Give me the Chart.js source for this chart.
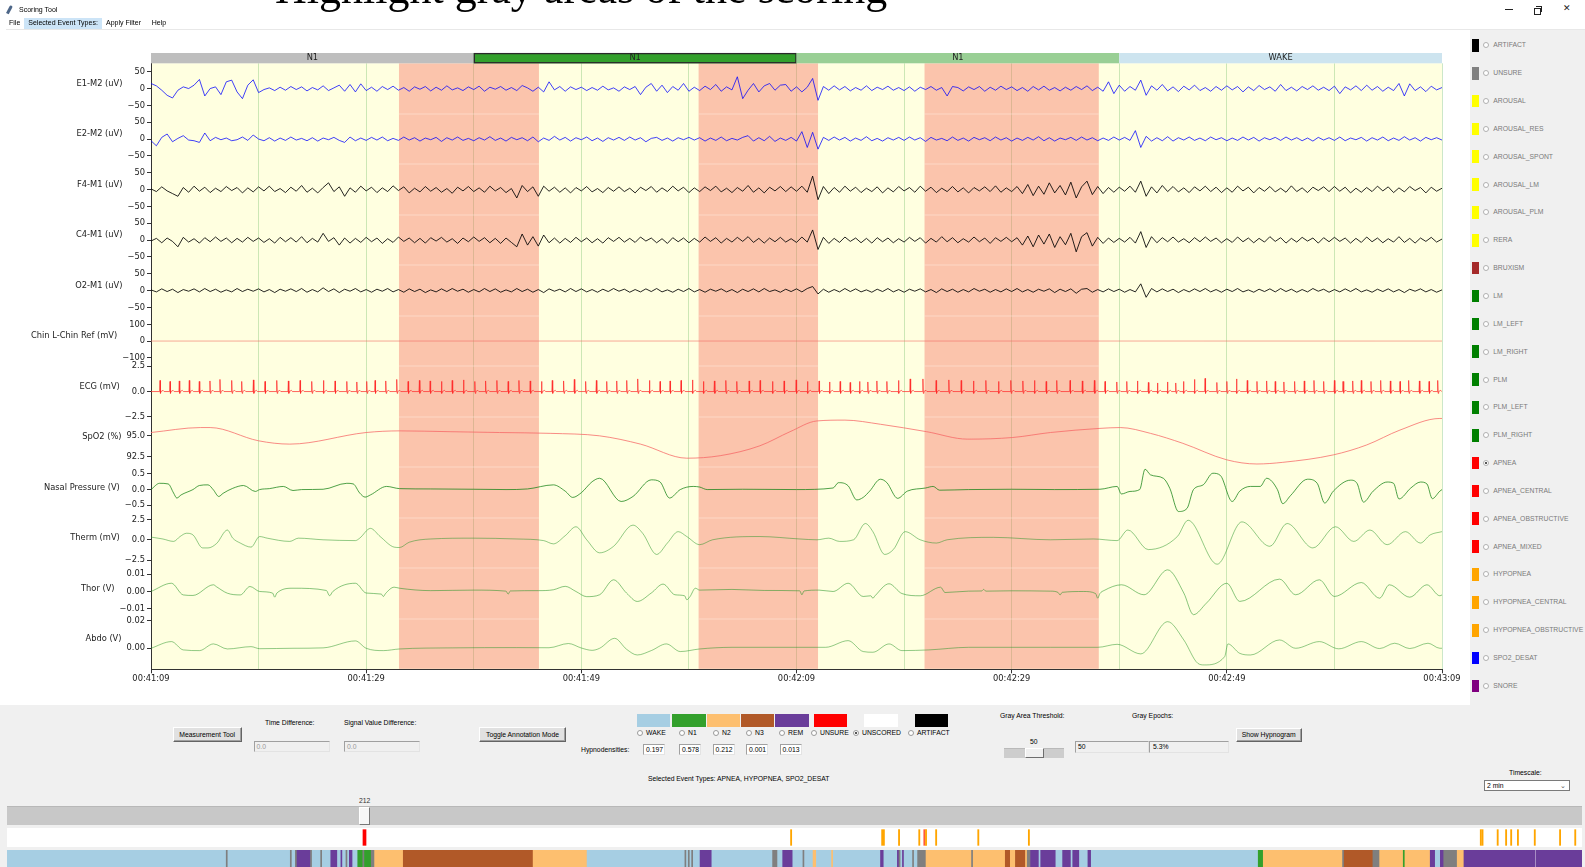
<!DOCTYPE html>
<html>
<head>
<meta charset="utf-8">
<title>Scoring Tool</title>
<script src="https://cdn.jsdelivr.net/npm/chart.js@4.4.1/dist/chart.umd.min.js"></script>
<style>
  body { margin:0; width:1585px; height:867px; overflow:hidden; background:#fff; position:relative; font-family:'Liberation Sans', Arial, sans-serif; }
  .abs { position:absolute; white-space:nowrap; }
  .tk { font-size:6.8px; line-height:8px; color:#000; }
  .btn { position:absolute; background:#e1e1e1; border:1px solid; border-color:#fff #646464 #646464 #fff; box-shadow:inset -1px -1px 0 #a0a0a0; font-size:6.8px; text-align:center; box-sizing:border-box; white-space:nowrap; }
  .entry { position:absolute; box-sizing:border-box; border:1px solid; border-color:#a0a0a0 #e3e3e3 #e3e3e3 #a0a0a0; font-size:6.8px; padding-left:2px; white-space:nowrap; }
  .rb { position:absolute; width:6px; height:6px; border-radius:50%; border:1px solid #9a9a9a; background:#fff; box-sizing:border-box; }
  .rb.on::after { content:''; position:absolute; left:1.2px; top:1.2px; width:1.6px; height:1.6px; border-radius:50%; background:#333; }
  canvas { position:absolute; }
</style>
</head>
<body>

<canvas id="psg" width="1470" height="700" style="left:0;top:0"></canvas>

<!-- title bar and menu -->
<div class="abs" style="left:8px;top:5px;width:2.5px;height:9px;background:#4d6688;transform:rotate(28deg);border-radius:2px 2px 0 0"></div>
<div class="abs tk" style="left:19px;top:6px;font-size:7px">Scoring Tool</div>
<div class="abs" style="left:1505px;top:9px;width:8px;height:1px;background:#222"></div>
<div class="abs" style="left:1536px;top:6px;width:5px;height:5px;border:1px solid #222;border-left:none;border-bottom:none"></div>
<div class="abs" style="left:1534px;top:8px;width:5px;height:5px;border:1px solid #222;background:#fff"></div>
<div class="abs" style="left:1563px;top:3px;font:9px 'DejaVu Sans';color:#222">✕</div>
<div class="abs" style="left:24px;top:17.5px;width:77.5px;height:11px;background:#cce4f7"></div>
<div class="abs tk" style="left:9px;top:19.3px;font-size:7px">File</div>
<div class="abs tk" style="left:28.3px;top:19.3px;font-size:7px">Selected Event Types:</div>
<div class="abs tk" style="left:106px;top:19.3px;font-size:7px">Apply Filter</div>
<div class="abs tk" style="left:151.7px;top:19.3px;font-size:7px">Help</div>
<div class="abs" style="left:6px;top:28.5px;width:1579px;height:1px;background:#e8e8e8"></div>
<div class="abs" style="left:275px;top:-33px;font:44px 'Liberation Serif', serif;line-height:44px;color:#000">Highlight gray areas of the scoring</div>

<!-- event type list on the right -->
<div id="evPanel" class="abs" style="left:1470px;top:30px;width:115px;height:675px;background:#f0f0f0"></div>

<!-- control panel -->
<div id="ctrl" class="abs" style="left:0;top:705px;width:1585px;height:162px;background:#f0f0f0">
  <div class="btn" style="left:173px;top:21.7px;width:68.5px;height:15px;line-height:13px">Measurement Tool</div>
  <div class="abs tk" style="left:265px;top:14px">Time Difference:</div>
  <div class="entry" style="left:253.6px;top:36px;width:76.4px;height:11px;line-height:9px;color:#9a9a9a">0.0</div>
  <div class="abs tk" style="left:344px;top:14px">Signal Value Difference:</div>
  <div class="entry" style="left:344px;top:36px;width:76px;height:11px;line-height:9px;color:#9a9a9a">0.0</div>
  <div class="btn" style="left:479px;top:22px;width:87px;height:15px;line-height:13px">Toggle Annotation Mode</div>
  <div id="stageKeys"></div>
  <div class="abs tk" style="left:581px;top:41px">Hypnodensities:</div>
  <div id="hdBoxes"></div>
  <div class="abs tk" style="left:648px;top:70px">Selected Event Types: APNEA, HYPOPNEA, SPO2_DESAT</div>
  <div class="abs tk" style="left:1000px;top:7px">Gray Area Threshold:</div>
  <div class="abs tk" style="left:1132px;top:7px">Gray Epochs:</div>
  <div class="abs tk" style="left:1030px;top:33px">50</div>
  <div class="abs" style="left:1004px;top:43px;width:60px;height:10px;background:#cdcdcd;border-top:1px solid #b9b9b9;box-sizing:border-box"></div>
  <div class="abs" style="left:1025px;top:43px;width:19px;height:10px;background:#f0f0f0;border:1px solid;border-color:#fff #6e6e6e #6e6e6e #fff;box-sizing:border-box"></div>
  <div class="entry" style="left:1075px;top:36px;width:74px;height:12px;line-height:10px">50</div>
  <div class="entry" style="left:1149px;top:36px;width:80px;height:12px;line-height:10px;padding-left:3px">5.3%</div>
  <div class="btn" style="left:1236px;top:23px;width:65.5px;height:14px;line-height:12px">Show Hypnogram</div>
  <div class="abs tk" style="left:1509px;top:64px">Timescale:</div>
  <div class="entry" style="left:1484px;top:75px;width:86px;height:11px;line-height:9px;background:#fff;border:1px solid #7a7a7a">2 min<span style="position:absolute;right:3px;top:0;color:#555">&#8964;</span></div>
  <div class="abs" style="left:7px;top:101px;width:1575px;height:19px;background:#c8c8c8;border-top:1px solid #b8b8b8;box-sizing:border-box"></div>
  <div id="thumb" class="abs" style="top:101.5px;width:10.5px;height:18px;background:#f6f6f6;border:1px solid;border-color:#fff #777 #777 #fff;box-sizing:border-box"></div>
  <div id="thumbLbl" class="abs tk" style="top:91.5px;color:#333"></div>
</div>
<canvas id="events" width="1575" height="19" style="left:7px;top:828px;background:#fff"></canvas>
<canvas id="hypno" width="1575" height="17" style="left:7px;top:850px;background:#fff"></canvas>

<script>
// ---- signal data (2 min window, 00:41:09 - 00:43:09) ----
const chanNames = ['E1-M2 (uV)', 'E2-M2 (uV)', 'F4-M1 (uV)', 'C4-M1 (uV)', 'O2-M1 (uV)', 'Chin L-Chin Ref (mV)',
  'ECG (mV)', 'SpO2 (%)', 'Nasal Pressure (V)', 'Therm (mV)', 'Thor (V)', 'Abdo (V)'];
const chanMin = [-75, -75, -75, -75, -75, -153, -2.5, 91.2, -0.9, -3.5, -0.0159, -0.0154];
const chanMax = [75, 75, 75, 75, 75, 153, 2.5, 97.3, 0.71, 2.7, 0.0135, 0.0216];
const chanTicks = [[-50, 0, 50], [-50, 0, 50], [-50, 0, 50], [-50, 0, 50], [-50, 0, 50], [-100, 0, 100],
  [-2.5, 0, 2.5], [92.5, 95], [-0.5, 0, 0.5], [-2.5, 0, 2.5], [-0.01, 0, 0.01], [0, 0.02]];
const tickDecimals = [0, 0, 0, 0, 0, 0, 1, 1, 1, 1, 2, 2];

const xGridSecs = [0, 10, 20, 30, 40, 50, 60, 70, 80, 90, 100, 110, 120];
const xTickVals = [0, 20, 40, 60, 80, 100, 120];
const xTickLabels = ['00:41:09', '00:41:29', '00:41:49', '00:42:09', '00:42:29', '00:42:49', '00:43:09'];

// 30 s epochs shown in the bar above the traces
const epochStart = [0, 30, 60, 90];
const epochLen = 30;
const epochStage = ['N1', 'N1', 'N1', 'WAKE'];
const currentEpochIdx = 1;

// apnea events (seconds into the window)
const apneaSpans = [[23.05, 36.06], [50.9, 62.0], [71.9, 88.1]];

// EEG / EOG sampled every 0.5 s
const eegStep = 0.5;
const e1m2 = [
  15,8,-5,-20,-28,-5,5,0,10,27, -22,0,5,-18,20,25,-10,-30,10,26,
  -12,-3,2,-6,4,-5,6,-3,5,-7, 3,-4,8,-6,2,10,-8,12,-10,14,
  -6,4,-8,6,-3,7,-5,3,-8,5, -2,6,-7,4,-5,8,-4,2,-6,5,
  -3,7,-8,4,-2,6,-5,3,-6,9, 2,-8,4,-10,20,-4,6,-8,5,-3,
  4,-6,3,-5,7,-4,2,-8,5,-3, 6,-18,4,15,-8,10,-12,6,-5,15,
  -8,4,-6,7,-3,12,-8,5,-4,35, -30,-5,15,-10,8,15,-5,10,12,-8,
  5,-10,4,30,-35,6,-5,8,-4,6, -7,3,-5,8,-6,4,-3,7,-5,3,
  -6,5,-8,4,-3,6,-5,3,-22,6, 3,-7,5,-3,6,-8,4,-5,7,-3,
  5,-6,3,-8,6,-4,7,-5,3,-7, 4,-5,6,-3,8,-6,4,-8,20,-15,
  10,-8,6,-5,25,-20,8,-5,12,-7, 5,-9,7,-4,10,-6,3,-8,6,-5,
  8,-4,6,-10,5,-6,9,-3,5,-8, 12,-6,4,-7,6,-3,8,-5,4,-6,
  7,-15,5,-4,8,-6,10,-5,6,-8, 4,-6,15,-22,14,-6,5,-9,7,-4,
  3];
const e2m2 = [
  -5,-20,5,15,-8,2,10,-3,-5,-10, 18,-5,5,-2,3,-5,-2,6,-4,12,
  0,-5,4,-6,3,-4,6,-3,2,-5, 4,-6,3,-2,5,-4,-10,6,-5,3,
  -4,5,-3,6,-5,2,-4,6,-3,4, -6,3,-2,5,-7,4,-3,6,-4,2,
  -5,4,-3,7,-4,3,-6,5,-2,4, -5,6,-8,3,-4,8,-3,5,-6,4,
  -2,6,-5,3,-7,4,-3,5,-4,6, -3,4,-8,2,5,-4,3,-6,4,-2,
  5,-3,4,-6,3,-4,6,-5,2,-3, 5,10,-6,4,-5,8,-7,3,-4,5,
  -6,22,-25,20,-30,5,-4,6,-3,5, -6,3,-4,7,-5,2,-6,4,-3,5,
  -4,6,-3,4,-7,5,-3,2,-5,6, -4,3,-6,5,-2,4,-5,6,-3,4,
  -6,3,-4,5,-3,7,-5,4,-6,3, -2,5,-4,6,-3,4,-5,3,-4,6,
  -3,5,-4,25,-25,8,-6,4,-5,7, -6,4,-3,6,-4,3,-5,6,-2,4,
  -5,3,-4,6,-3,5,-6,4,-2,5, -4,6,-3,4,-5,3,-6,5,-3,4,
  -4,6,-5,3,-2,5,-6,4,-3,6, -5,3,-4,7,-3,4,-6,5,-2,4,
  -3];
const f4m1 = [
  2,-6,8,-4,-12,-20,6,-8,10,-5, 7,-9,4,-6,9,-3,6,-10,5,-7,
  8,-4,10,-6,3,-9,7,-5,12,-8, 4,-10,6,20,-6,8,-20,5,-8,10,
  -4,7,-9,5,-6,11,-3,8,-10,4, -7,9,-5,6,-8,3,-11,7,-4,9,
  -6,5,-8,10,-4,6,-9,3,-25,12, -6,8,-20,10,-5,7,-8,5,-10,6,
  -4,9,-7,3,-9,6,-5,8,-6,4, -10,7,-3,9,-8,5,-6,10,-4,7,
  -9,5,-6,8,-3,10,-7,4,-9,6, -5,12,-8,5,-10,7,-4,9,-6,8,
  -5,10,-8,40,-30,9,-12,6,-8,10, -5,7,-9,4,-6,8,-10,5,-7,9,
  -4,6,-8,10,-5,7,-9,4,-6,9, -7,5,-10,6,-4,8,-6,11,-8,5,
  -6,9,-12,15,-18,10,-14,20,-10,12, -16,22,-25,8,25,-15,9,-12,6,-8,
  7,-5,10,-8,25,-20,8,-10,12,-6, 9,-7,5,-9,8,-4,10,-6,7,-9,
  5,-8,10,-4,7,-10,6,-5,9,-7, 4,-8,11,-6,5,-9,7,-3,8,-6,
  9,-5,7,-10,4,-8,6,-6,10,-4, 8,-9,5,-7,9,-3,6,-10,7,-5,
  4];
const c4m1 = [
  -3,5,-8,6,-4,-20,8,-6,4,-9, 7,-5,9,-4,6,-8,5,-6,8,-4,
  6,-7,4,-9,8,-5,7,-6,10,-8, 5,-6,20,-4,7,-15,6,-9,5,-7,
  8,-5,6,-10,4,-7,9,-4,6,-8, 5,-9,7,-3,8,-6,4,-10,6,-5,
  9,-4,7,-8,5,-10,6,-7,-20,18, -15,10,-18,15,-8,6,-9,5,-7,8,
  -5,6,-8,4,-9,7,-4,8,-6,5, -7,9,-3,6,-8,4,-10,7,-5,6,
  -8,5,-6,9,-4,7,-9,5,-6,8, -4,10,-7,5,-9,6,-5,8,-6,4,
  -7,9,-6,30,-28,8,-10,5,-7,9, -4,6,-8,5,-9,7,-5,6,-8,4,
  -6,8,-4,7,-9,5,-6,10,-5,7, -8,4,-6,9,-5,6,-10,7,-4,8,
  -5,7,-15,12,-20,15,-12,18,-22,10, -14,20,-35,10,22,-18,8,-10,6,-7,
  5,-6,8,-9,25,-22,10,-8,7,-5, 9,-6,4,-8,7,-5,9,-4,6,-8,
  4,-7,9,-5,6,-8,5,-6,10,-4, 7,-9,5,-6,8,-3,6,-9,7,-5,
  8,-4,6,-9,5,-7,9,-5,6,-8, 4,-6,10,-7,5,-9,6,-4,8,-6,
  3];
const o2m1 = [
  2,-4,5,-3,4,-6,3,-2,5,-4, 6,-3,4,-5,2,-4,6,-3,4,-2,
  5,-4,3,-6,4,-2,5,-3,6,-5, 3,-4,8,-3,5,-6,4,-2,6,-4,
  3,-5,4,-2,6,-4,3,-5,5,-3, 4,-6,2,-4,5,-3,6,-2,4,-5,
  3,-4,6,-3,5,-5,2,-4,6,-3, 4,-5,3,-6,5,-2,4,-4,6,-3,
  5,-4,3,-5,4,-3,6,-2,4,-5, 3,-4,5,-3,6,-4,2,-5,4,-3,
  6,-4,3,-5,4,-2,5,-4,3,-6, 4,-3,5,-4,6,-3,2,-5,4,-3,
  5,-4,6,12,-10,4,-5,3,-4,6, -3,5,-4,2,-5,4,-3,6,-4,3,
  -5,4,-2,5,-4,3,-6,5,-3,4, -5,3,-4,6,-2,4,-5,3,-4,5,
  -3,6,-4,3,-5,4,-2,5,-6,4, -3,5,-8,4,6,-5,3,-4,5,-3,
  4,-5,3,-4,20,-20,6,-4,5,-3, 4,-6,3,-4,5,-3,6,-4,3,-5,
  4,-3,6,-4,2,-5,4,-3,5,-4, 6,-3,4,-5,3,-4,6,-2,4,-5,
  3,-4,5,-3,6,-4,2,-5,4,-3, 5,-4,3,-6,4,-2,5,-4,3,-5,
  2];

const chin = [[0, 0], [120, 0]];

// ECG R-peaks: [time s, height mV]
const ecgBeats = [[0.84,1.1],[1.77,1.0],[2.63,1.05],[3.56,1.1],[4.49,1.0],[5.48,1.05],[6.41,1.2],[7.5,1.1],[8.43,1.0],[9.52,1.15],
  [10.6,1.0],[11.69,1.1],[12.77,1.05],[13.86,1.1],[14.94,1.0],[16.03,1.1],[17.11,1.05],[18.2,1.0],[19.13,0.95],[20.05,1.0],
  [20.83,1.1],[21.82,1.05],[22.84,1.2],[23.9,1.0],[24.95,1.1],[25.95,1.05],[27.0,1.0],[28.0,1.1],[29.05,1.15],[30.1,1.0],
  [31.1,1.05],[32.15,1.1],[33.2,1.0],[34.2,1.1],[35.25,1.05],[36.3,1.0],[37.3,1.1],[38.35,1.05],[39.35,1.2],[40.4,1.0],
  [41.4,1.1],[42.36,1.0],[43.29,1.05],[44.22,1.1],[45.24,1.25],[46.33,1.1],[47.32,1.0],[48.25,1.05],[49.27,1.1],[50.33,1.15],
  [51.35,1.0],[52.37,1.05],[53.43,1.1],[54.45,1.0],[55.6,1.05],[56.62,1.1],[57.77,1.0],[58.85,1.05],[59.97,1.15],[61.02,1.0],
  [62.1,1.05],[63.07,0.95],[64.06,1.0],[64.99,0.9],[65.86,1.0],[66.63,0.95],[67.47,1.05],[68.4,1.0],[69.48,1.1],[70.57,1.25],
  [71.75,1.25],[72.98,1.1],[74.16,1.15],[75.31,1.1],[76.45,1.05],[77.6,1.1],[78.78,1.0],[79.92,1.1],[81.04,1.05],[82.12,1.1],
  [83.21,1.0],[84.19,1.1],[85.43,1.1],[86.57,1.05],[87.69,1.1],[88.68,1.0],[89.77,0.95],[90.7,1.0],[91.69,1.05],[92.71,0.9],
  [93.55,0.85],[94.48,0.95],[95.25,0.85],[95.97,1.0],[96.99,1.2],[97.98,1.3],[99.07,0.9],[100.0,1.0],[100.9,1.25],[101.9,1.1],
  [102.8,1.0],[103.7,1.05],[104.5,1.0],[105.3,0.95],[106.3,1.0],[107.2,1.05],[108.1,1.1],[109.0,1.0],[110.0,1.1],[110.8,1.0],
  [111.7,1.05],[112.5,1.1],[113.4,1.0],[114.3,1.1],[115.2,1.05],[116.1,1.0],[116.9,1.1],[117.9,1.05],[118.8,1.0],[119.6,1.1]];

// slow channels: [time s, value]
const spo2 = [[0,95.4],[4.6,96.0],[5.5,96.0],[10,94.4],[12.9,94.0],[20,95.4],[23.1,95.6],[27.8,95.5],[32.4,95.4],[37.1,95.3],
  [41.7,95.0],[45.5,94.0],[49.8,92.3],[52.9,92.6],[56.6,93.8],[59.4,95.5],[61.9,96.8],[64.5,96.9],[67.8,96.4],[72.1,95.5],
  [75.9,94.6],[80.1,94.8],[83.6,95.4],[88.2,95.9],[90.1,96.0],[92.9,95.3],[95.9,94.1],[100,92.1],[102.8,91.6],[105.2,91.8],
  [109.9,92.7],[113,93.9],[116.1,95.7],[119.8,97.1],[120,97.1]];
const nasal = [[0,0],[0.8,0.2],[1.6,0.18],[2.1,-0.11],[2.4,-0.27],[2.8,-0.17],[3.9,0],[4.5,0.13],[5.3,0.15],[5.8,-0.01],
  [6.3,-0.22],[6.7,-0.12],[7.6,0.04],[8.6,0.13],[9.7,-0.06],[10.1,0],[11,0.03],[12.3,0.1],[13.2,-0.03],[14,0],
  [16,0.01],[18.2,0.2],[18.8,0.18],[19.4,-0.11],[19.9,-0.24],[20.4,-0.17],[21.9,0.1],[23.1,0.03],[26,0.02],[30,0.01],
  [33,0],[35,0.02],[37.4,0.15],[38.5,-0.05],[39.2,-0.25],[40,-0.1],[41,0.25],[41.7,0.36],[43.7,-0.38],[44.8,-0.22],
  [46.5,0.31],[47.3,0.25],[48.2,-0.27],[49.2,0],[50.4,0.1],[51,0.08],[51.7,0],[55,0.01],[60,0],[63.4,0.05],
  [63.9,0.22],[64.8,0.12],[65.6,-0.33],[66.2,-0.25],[66.8,-0.05],[67.8,0.33],[68.4,0.22],[69.4,-0.28],[70.3,-0.05],[72,0.05],
  [72.7,0.1],[73.3,-0.02],[76,0],[80,0.01],[84,0],[88.2,0.01],[89.8,0.1],[90.2,-0.14],[91,-0.06],[91.9,0],
  [92.4,0.65],[92.9,0.47],[94.1,0.36],[94.7,0.04],[95.5,-0.7],[96.3,-0.6],[96.9,0],[97.8,0.15],[98.7,0.52],[99.4,0.45],
  [100.5,-0.38],[101.2,-0.05],[102.2,0.1],[103.1,0.1],[103.7,0.36],[104.7,0],[105.2,-0.45],[105.9,-0.2],[107.5,0.33],[108.4,0.2],
  [109.1,-0.43],[109.9,-0.05],[111.5,0.3],[112.1,0.2],[112.7,-0.4],[113.6,-0.05],[114.9,0.24],[115.5,0.2],[116,-0.3],[117.1,0.05],
  [118,0.24],[118.6,0.18],[119.1,-0.29],[119.8,-0.05],[120,0]];
const therm = [[0,0.33],[1.1,0.1],[2.1,-0.2],[2.7,0.4],[3.3,0.8],[3.9,0.6],[4.8,-1.0],[5.3,-1.0],[6.1,-0.45],[7.1,1.2],
  [7.6,0.2],[8.3,-0.4],[9.3,-0.9],[10.1,0.4],[10.8,0.2],[12.9,-0.2],[13.7,0.2],[16,0],[19,-0.1],[19.4,0.2],
  [20.4,1.4],[21.3,0.4],[22.6,-0.9],[23.1,-0.95],[24,-0.3],[26,0.1],[30,0.2],[34,0.1],[36.5,-0.1],[37.4,-0.5],
  [38.5,0.5],[39.5,1.6],[40.5,0],[41.7,-1.6],[43,-0.8],[44.8,1.8],[45.7,0.8],[47,-1.8],[48,-0.4],[49,1.0],
  [49.8,0.4],[51,-0.6],[52.2,0],[56.6,0.4],[60.3,0.1],[61.9,0],[63,0.2],[64,-0.2],[65.3,0],[66.4,2.0],
  [67.1,1.0],[68.2,-1.8],[69,-1.2],[70.1,1.0],[71.5,0],[73,-0.4],[74,0],[78.3,0.3],[83.6,0],[87.6,0.1],
  [89.8,-0.1],[90.8,1.2],[92.7,-1.2],[95.4,0.4],[96.4,2.4],[99.1,-3.0],[101.4,2.2],[104,-0.8],[105.6,2.0],[108,-1.0],
  [110.1,1.6],[111.8,-0.2],[113.3,1.2],[114.9,-0.6],[116.6,1.0],[118,-0.4],[118.9,0.6],[120,1.0]];
const thor = [[0,0],[1.9,0.0048],[3,-0.002],[3.9,-0.0023],[5.8,0.0039],[6.1,0.0027],[7.1,-0.001],[8.3,-0.002],[9.2,0.0029],[10.1,0],
  [11.3,-0.0009],[11.5,-0.0033],[11.7,-0.0009],[13.2,0.0019],[16.3,0.0006],[16.6,-0.0025],[16.9,0],[19,0.0048],[20,-0.0009],[21.4,-0.0015],
  [21.6,-0.0029],[21.8,-0.0012],[22.6,0.0025],[23.1,0.0019],[26,0.0005],[30,0.0008],[33,0.0002],[33.2,-0.0015],[33.4,0.0003],[36,0.0005],
  [37.4,0.001],[38.5,0.003],[39.5,0],[40.5,-0.003],[41.7,-0.0019],[43,0.0068],[44.2,-0.0009],[45.2,-0.0058],[46.5,-0.0009],[47.6,0.0043],
  [48.7,-0.0019],[49.6,-0.0025],[49.8,-0.0048],[50.1,-0.003],[50.6,0.0019],[51,0.0008],[54,0.0012],[57,0.0006],[60.3,0.0004],[60.5,-0.0019],
  [60.7,0.0003],[62.1,0.0008],[63.4,0],[64.8,0.0048],[66.2,-0.0029],[66.9,-0.0025],[67.1,-0.0039],[67.3,-0.0025],[68.6,0.0045],[69.8,-0.0012],
  [71.5,-0.0025],[73.4,0.0025],[73.8,-0.0006],[76,0.0002],[77.2,0.0003],[77.4,0.0012],[77.6,0.0002],[80,0.0004],[83.6,0.0002],[84.3,-0.0005],
  [84.5,-0.002],[84.7,-0.0005],[86.7,0],[87.8,-0.0012],[88,-0.0039],[88.2,-0.0012],[88.6,0.0006],[90.2,0.0039],[92.3,-0.0019],[94.5,0.0126],
  [96,-0.0009],[96.9,-0.0135],[98.1,-0.0068],[100,0.0048],[101.2,-0.0058],[104.9,0.0072],[106.4,-0.0019],[108.6,0.0068],[110,-0.0029],[112.5,0.0052],
  [114.2,-0.0039],[115.1,0.0039],[117,-0.0033],[118.6,0.0039],[119.8,-0.0025],[120,-0.002]];
const abdo = [[0,0],[1.9,0.0049],[3,-0.0012],[4.5,-0.0017],[5.8,0.0032],[7.1,-0.0005],[9.3,0.0012],[10.1,-0.0003],[13.2,0],[16,0.0003],
  [19,0.0054],[20,0],[21.6,-0.0017],[23.1,-0.0005],[28,0.0003],[34,0.0005],[37,0.0004],[38.8,0.0035],[40,0.0002],[41,-0.0015],
  [41.7,0],[43.1,0.0073],[44.2,-0.0007],[45.2,-0.0049],[46.5,-0.0017],[47.9,0.0032],[49.2,-0.0024],[51,-0.0005],[54,0.0007],[62.7,0.0007],
  [64.8,0.0056],[66.2,-0.0024],[67.1,-0.0029],[68.6,0.0032],[69.8,-0.0017],[72.3,-0.0012],[76,0.0007],[83.6,0.0007],[88,0.0007],[89.8,0.0029],
  [92,-0.0041],[94.5,0.0195],[96,0.0061],[97.3,-0.011],[97.9,-0.0122],[99.8,-0.0061],[100.1,0.0032],[101.2,-0.0037],[102.2,-0.0049],[104.9,0.0061],
  [106.4,0],[108.6,0.0049],[110.4,-0.0004],[112.5,0.0049],[114.2,-0.0002],[115.6,0.0037],[117,-0.0002],[118.7,0.0037],[119.8,0],[120,0]];

// ---- whole-night data ----
const hypEpochs = 934;
const currentEpoch = 212;
const hypRuns = [['W',0,130],['G',130,131],['W',131,168],['G',168,169],['W',169,171],['G',171,172],['R',172,180],['G',180,181],
  ['W',181,186],['G',186,187],['W',187,192],['R',192,196],['W',196,198],['R',198,199],['W',199,201],['G',201,202],['W',202,203],
  ['R',203,205],['W',205,208],['N1',208,211],['G',211,212],['N1',212,216],['G',216,218],['N2',218,235],['N3',235,312],['N2',312,344],
  ['W',344,402],['G',402,403],['W',403,404],['G',404,405],['W',405,406],['G',406,407],['W',407,411],['R',411,418],['W',418,454],
  ['G',454,457],['W',457,460],['R',460,466],['W',466,472],['G',472,473],['W',473,478],['N2',478,480],['W',480,489],['N2',489,490],
  ['W',490,518],['R',518,520],['W',520,528],['R',528,529],['G',529,530],['W',530,531],['R',531,532],['W',532,537],['G',537,538],
  ['W',538,540],['G',540,545],['N2',545,572],['G',572,573],['N2',573,592],['N3',592,595],['N2',595,598],['N3',598,604],['N2',604,605],
  ['G',605,607],['R',607,612],['W',612,613],['R',613,622],['W',622,626],['R',626,631],['W',631,632],['R',632,636],['W',636,641],
  ['R',641,643],['W',643,742],['N1',742,745],['N2',745,792],['G',792,793],['N3',793,810],['G',810,814],['N2',814,828],['N1',828,829],
  ['N2',829,844],['R',844,847],['W',847,850],['R',850,852],['G',852,860],['N2',860,864],['R',864,906],['R',906.6,934]];
const evMarks = [[212,'cur'],[465,'H'],[519,'H'],[520,'H'],[529,'H'],[541,'H'],[544,'A'],[545,'H'],[551,'H'],[576,'H'],[606,'H'],
  [874,'H'],[875,'H'],[884,'H'],[889,'H'],[892,'H'],[896,'H'],[906,'H'],[921,'H'],[930,'H']];

const hypnodensities = [0.197, 0.578, 0.212, 0.001, 0.013];

const eventTypes = ['ARTIFACT','UNSURE','AROUSAL','AROUSAL_RES','AROUSAL_SPONT','AROUSAL_LM','AROUSAL_PLM','RERA','BRUXISM',
  'LM','LM_LEFT','LM_RIGHT','PLM','PLM_LEFT','PLM_RIGHT','APNEA','APNEA_CENTRAL','APNEA_OBSTRUCTIVE','APNEA_MIXED',
  'HYPOPNEA','HYPOPNEA_CENTRAL','HYPOPNEA_OBSTRUCTIVE','SPO2_DESAT','SNORE'];
const eventColors = ['#000000','#808080','#ffff00','#ffff00','#ffff00','#ffff00','#ffff00','#ffff00','#a52a2a',
  '#008000','#008000','#008000','#008000','#008000','#008000','#ff0000','#ff0000','#ff0000','#ff0000',
  '#ffa500','#ffa500','#ffa500','#0000ff','#800080'];
const selectedEvent = 'APNEA';

// ---- styles ----
const stageColors = { W: '#a6cee3', N1: '#33a02c', N2: '#fdbf6f', N3: '#b15928', R: '#6a3d9a', G: '#7f7f7f' };
const epochFill = ['#bebebe', '#33a02c', '#99cf95', '#cde4ef'];
const chanColor = ['rgba(0,0,255,0.75)', 'rgba(0,0,255,0.75)', 'rgba(0,0,0,0.85)', 'rgba(0,0,0,0.85)', 'rgba(0,0,0,0.85)',
  'rgba(240,110,100,0.6)', 'rgba(255,40,40,0.8)', 'rgba(245,100,100,0.75)', 'rgba(20,130,20,0.75)',
  'rgba(40,150,40,0.5)', 'rgba(40,150,40,0.55)', 'rgba(40,150,40,0.5)'];
const tickFont = { family: "'DejaVu Sans', sans-serif", size: 8.3 };

const fmtTick = (v, d) => (v < 0 ? '\u2212' : '') + Math.abs(v).toFixed(d);
const fromSamples = vals => vals.map((v, k) => ({ x: k * eegStep, y: v }));
const fromPairs = pairs => pairs.map(p => ({ x: p[0], y: p[1] }));

const ecgPoints = () => {
  const pts = [{ x: 0, y: 0 }];
  ecgBeats.forEach(([t, h]) => {
    pts.push({ x: t - 0.04, y: 0 }, { x: t, y: h }, { x: t + 0.04, y: -0.18 }, { x: t + 0.09, y: 0 },
      { x: t + 0.28, y: 0.12 }, { x: t + 0.38, y: 0 });
  });
  pts.push({ x: 120, y: 0 });
  return pts;
};

const chanData = [fromSamples(e1m2), fromSamples(e2m2), fromSamples(f4m1), fromSamples(c4m1), fromSamples(o2m1),
  fromPairs(chin), ecgPoints(), fromPairs(spo2), fromPairs(nasal), fromPairs(therm), fromPairs(thor), fromPairs(abdo)];

// ---- plugins ----
const backgroundPlugin = {
  id: 'psgBackground',
  beforeDraw(chart) {
    const { ctx, chartArea: a } = chart;
    ctx.save();
    ctx.fillStyle = '#ffffe0';
    ctx.fillRect(a.left, a.top, a.right - a.left, a.bottom - a.top);
    ctx.restore();
  },
  beforeDatasetsDraw(chart) {
    const { ctx, chartArea: a } = chart;
    const x = chart.scales.x;
    ctx.save();
    apneaSpans.forEach(([s, e]) => {
      const x0 = x.getPixelForValue(s), x1 = x.getPixelForValue(e);
      ctx.fillStyle = 'rgba(245,115,100,0.42)';
      ctx.fillRect(x0, a.top, x1 - x0, a.bottom - a.top - 0.5);
      // lighter seams where the channel axes meet
      ctx.fillStyle = 'rgba(255,240,230,0.45)';
      for (let i = 1; i < chanNames.length; i++) {
        const yb = chart.scales['y' + i].top;
        ctx.fillRect(x0, Math.round(yb) - 0.5, x1 - x0, 1);
      }
    });
    ctx.restore();
  },
  afterDraw(chart) {
    const { ctx, chartArea: a } = chart;
    const x = chart.scales.x;
    ctx.save();
    // epoch bar
    ctx.font = "8.3px 'DejaVu Sans'";
    ctx.textAlign = 'center';
    ctx.textBaseline = 'middle';
    epochStart.forEach((st, i) => {
      const x0 = x.getPixelForValue(st), x1 = x.getPixelForValue(st + epochLen);
      ctx.fillStyle = epochFill[i];
      ctx.fillRect(x0, a.top - 10.3, x1 - x0, 10.3);
      if (i === currentEpochIdx) {
        ctx.strokeStyle = '#2a2a2a';
        ctx.lineWidth = 1.3;
        ctx.strokeRect(x0 + 0.6, a.top - 9.7, x1 - x0 - 1.2, 9.1);
      }
      ctx.fillStyle = '#222';
      ctx.fillText(epochStage[i], (x0 + x1) / 2, a.top - 5);
    });
    // channel names, placed left of each axis' tick labels
    ctx.textAlign = 'right';
    chanNames.forEach((name, i) => {
      const s = chart.scales['y' + i];
      const w = Math.max(...chanTicks[i].map(v => ctx.measureText(fmtTick(v, tickDecimals[i])).width));
      ctx.fillText(name, s.right - 6 - w - 5, (s.top + s.bottom) / 2 - 5);
    });
    ctx.restore();
  }
};

// ---- main chart ----
const scales = {
  x: {
    type: 'linear', min: 0, max: 120,
    afterBuildTicks: s => { s.ticks = xGridSecs.map(v => ({ value: v })); },
    // keep the plot edge fixed; the end labels may hang over
    afterFit: s => { s.height = 30.7; s.paddingLeft = 0; s.paddingRight = 0; },
    ticks: {
      autoSkip: false, maxRotation: 0, padding: 1, color: '#222', font: tickFont,
      callback: v => { const k = xTickVals.indexOf(v); return k < 0 ? '' : xTickLabels[k]; }
    },
    grid: {
      color: 'rgba(110,185,100,0.35)', tickLength: 4,
      tickColor: c => (c.tick && xTickVals.includes(c.tick.value)) ? '#333' : 'rgba(0,0,0,0)'
    },
    border: { color: '#333' }
  }
};
chanNames.forEach((name, i) => {
  scales['y' + i] = {
    type: 'linear', position: 'left', stack: 'psg', stackWeight: 1, weight: chanNames.length - i, offset: false,
    min: chanMin[i], max: chanMax[i],
    afterBuildTicks: s => { s.ticks = chanTicks[i].map(v => ({ value: v })); },
    afterFit: s => { s.width = 151; },
    ticks: { autoSkip: false, padding: 2, color: '#222', font: tickFont, callback: v => fmtTick(v, tickDecimals[i]) },
    grid: { drawOnChartArea: false, tickLength: 4, tickColor: '#333' },
    border: { color: '#333' }
  };
});

const datasets = chanNames.map((name, i) => ({
  label: name,
  data: chanData[i],
  yAxisID: 'y' + i,
  xAxisID: 'x',
  borderColor: chanColor[i],
  borderWidth: i === 6 ? 0.9 : 1,
  pointRadius: 0,
  cubicInterpolationMode: i >= 7 ? 'monotone' : 'default',
  tension: i >= 7 ? 0.4 : 0
}));

const psgChart = new Chart(document.getElementById('psg'), {
  type: 'line',
  data: { datasets },
  options: {
    responsive: false, animation: false, events: [], parsing: false,
    layout: { padding: { left: 0, top: 63.3, right: 28, bottom: 0 } },
    plugins: { legend: { display: false }, tooltip: { enabled: false } },
    scales
  },
  plugins: [backgroundPlugin]
});

// ---- night overview strips ----
const stripOptions = {
  indexAxis: 'y', responsive: false, animation: false, events: [],
  layout: { padding: 0 },
  plugins: { legend: { display: false }, tooltip: { enabled: false } },
  scales: {
    x: { type: 'linear', min: 0, max: hypEpochs, display: false },
    y: { type: 'category', labels: ['row'], display: false }
  }
};

const hypChart = new Chart(document.getElementById('hypno'), {
  type: 'bar',
  data: {
    datasets: [{
      data: hypRuns.map(r => ({ x: [r[1], r[2]], y: 'row' })),
      backgroundColor: hypRuns.map(r => stageColors[r[0]]),
      barPercentage: 1, categoryPercentage: 1, borderWidth: 0
    }]
  },
  options: stripOptions
});

const markColor = { cur: '#ff0000', H: '#ffa500', A: '#ff5a3c' };
const evChart = new Chart(document.getElementById('events'), {
  type: 'bar',
  data: {
    datasets: [{
      data: evMarks.map(m => ({ x: m[1] === 'cur' ? [m[0] - 1.1, m[0] + 1.1] : [m[0] - 0.55, m[0] + 0.55], y: 'row' })),
      backgroundColor: evMarks.map(m => markColor[m[1]]),
      barPercentage: 0.86, categoryPercentage: 1, borderWidth: 0
    }]
  },
  options: stripOptions
});

// ---- tk widgets ----
const evPanel = document.getElementById('evPanel');
eventTypes.forEach((name, i) => {
  const cy = 15.3 + i * 27.85;
  evPanel.insertAdjacentHTML('beforeend',
    `<div class="abs" style="left:1.7px;top:${cy - 6.3}px;width:7.7px;height:12.7px;background:${eventColors[i]}"></div>` +
    `<div class="rb${name === selectedEvent ? ' on' : ''}" style="left:13px;top:${cy - 3}px;border-color:#b0b0b0"></div>` +
    `<div class="abs tk" style="left:23.3px;top:${cy - 4}px;color:#7a7a7a">${name}</div>`);
});

const stageKeys = document.getElementById('stageKeys');
const keyNames = ['WAKE', 'N1', 'N2', 'N3', 'REM', 'UNSURE', 'UNSCORED', 'ARTIFACT'];
const keyColors = ['#a6cee3', '#33a02c', '#fdbf6f', '#b15928', '#6a3d9a', '#ff0000', '#ffffff', '#000000'];
const keyBox = [[637, 670], [672, 706], [706.5, 740], [741, 774], [775, 809], [814, 847], [864, 898], [915, 948]];
const keyRadio = [640, 682, 716, 749, 782, 814, 856, 911];
keyNames.forEach((k, i) => {
  stageKeys.insertAdjacentHTML('beforeend',
    `<div class="abs" style="left:${keyBox[i][0]}px;top:8.6px;width:${keyBox[i][1] - keyBox[i][0]}px;height:13.4px;background:${keyColors[i]}"></div>` +
    `<div class="rb${k === 'UNSCORED' ? ' on' : ''}" style="left:${keyRadio[i] - 3}px;top:25px"></div>` +
    `<div class="abs tk" style="left:${keyRadio[i] + 6}px;top:24px">${k}</div>`);
});

const hdBoxes = document.getElementById('hdBoxes');
const hdLeft = [643, 679, 712.5, 746, 779.5];
hypnodensities.forEach((v, i) => {
  hdBoxes.insertAdjacentHTML('beforeend',
    `<div class="entry" style="left:${hdLeft[i]}px;top:39px;width:22px;height:11px;line-height:9px;background:#fff">${v.toFixed(3)}</div>`);
});

// slider thumb at the current epoch
const thumbX = 7 + currentEpoch / hypEpochs * 1575;
document.getElementById('thumb').style.left = (thumbX - 5.25) + 'px';
const lbl = document.getElementById('thumbLbl');
lbl.textContent = currentEpoch;
lbl.style.left = (thumbX - 5.5) + 'px';
</script>
</body>
</html>
